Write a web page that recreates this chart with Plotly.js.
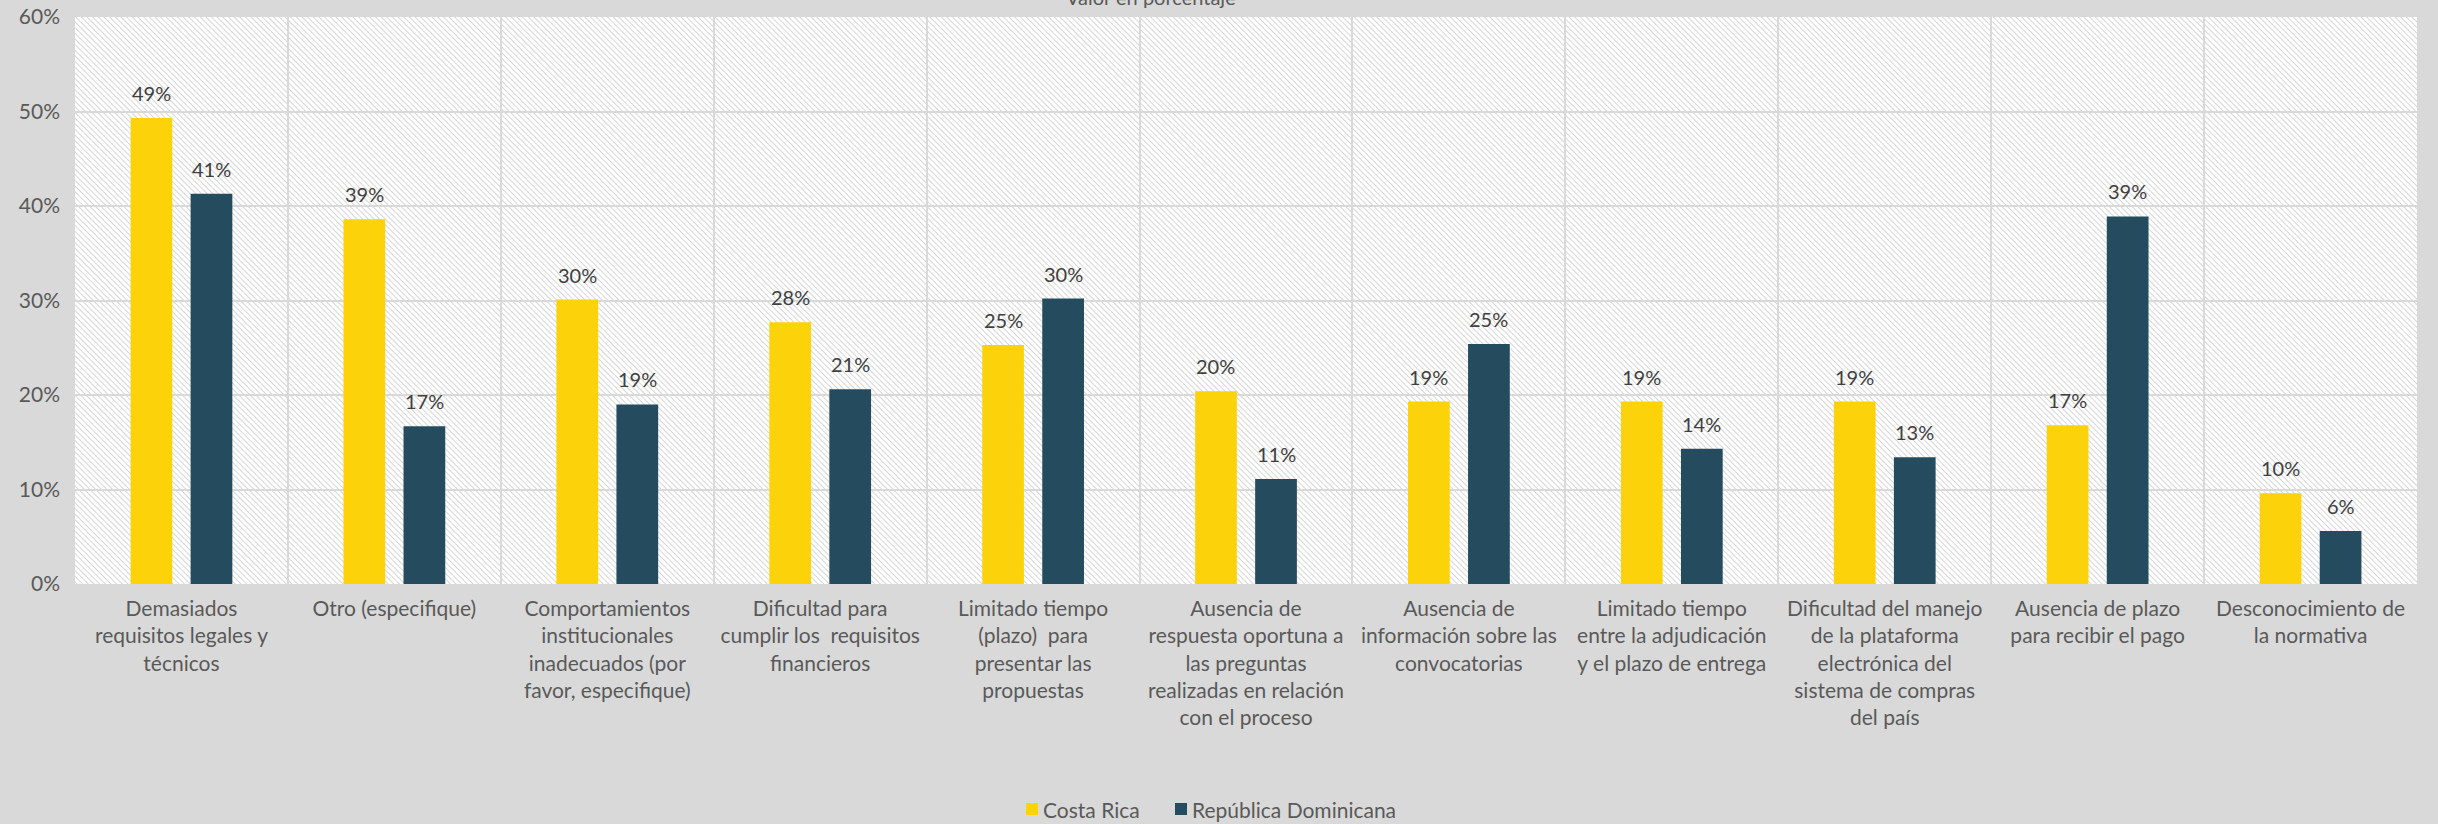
<!DOCTYPE html>
<html>
<head>
<meta charset="utf-8">
<script src="https://cdn.plot.ly/plotly-3.0.1.min.js"></script>
<style>
  html, body { margin: 0; padding: 0; background: #d9d9d9; }
  #chart { width: 2438px; height: 824px; }
</style>
</head>
<body>
<div id="chart"></div>
<script>
const categories = [
  "Demasiados<br>requisitos legales y<br>técnicos",
  "Otro (especifique)",
  "Comportamientos<br>institucionales<br>inadecuados (por<br>favor, especifique)",
  "Dificultad para<br>cumplir los  requisitos<br>financieros",
  "Limitado tiempo<br>(plazo)  para<br>presentar las<br>propuestas",
  "Ausencia de<br>respuesta oportuna a<br>las preguntas<br>realizadas en relación<br>con el proceso",
  "Ausencia de<br>información sobre las<br>convocatorias",
  "Limitado tiempo<br>entre la adjudicación<br>y el plazo de entrega",
  "Dificultad del manejo<br>de la plataforma<br>electrónica del<br>sistema de compras<br>del país",
  "Ausencia de plazo<br>para recibir el pago",
  "Desconocimiento de<br>la normativa"
];
const seriesNames = ["Costa Rica", "República Dominicana"];
const costaRica = [49.3, 38.6, 30.1, 27.7, 25.3, 20.4, 19.3, 19.3, 19.3, 16.8, 9.6];
const repDom    = [41.3, 16.7, 19.0, 20.6, 30.2, 11.1, 25.4, 14.3, 13.4, 38.9, 5.6];
const yTickVals = [0, 10, 20, 30, 40, 50, 60];
const yTickText = ["0%", "10%", "20%", "30%", "40%", "50%", "60%"];
const chartTitle = "Valor en porcentaje";

const W = 2438, H = 824;
const M = { l: 75, r: 21, t: 17, b: 240 };
const plotW = W - M.l - M.r, plotH = H - M.t - M.b;
const BARGAP = 0.436, BARGROUPGAP = 0.305;
const catW = plotW / categories.length;
const slotHalf = catW * (1 - BARGAP) / 4;

const colors = ["#FCD30B", "#254C5E"];
const font = "Lato, 'Open Sans', sans-serif";

// pixel -> paper helpers (for layout-only elements)
const px2x = px => (px - M.l) / plotW;
const py2y = py => (H - M.b - py) / plotH;

const hatchSvg =
  `<svg xmlns="http://www.w3.org/2000/svg" width="${plotW}" height="${plotH}">` +
  `<defs><pattern id="p" width="4" height="4" patternUnits="userSpaceOnUse" patternTransform="rotate(-45)">` +
  `<rect width="4" height="4" fill="#ffffff"/>` +
  `<line x1="0" y1="0" x2="0" y2="4" stroke="#cfcfcf" stroke-width="1.7"/>` +
  `</pattern></defs><rect width="100%" height="100%" fill="url(#p)"/></svg>`;
const hatchUri = "data:image/svg+xml;base64," + btoa(hatchSvg);

const allSeries = [costaRica, repDom];
const traces = allSeries.map((vals, s) => ({
  type: "bar",
  name: seriesNames[s],
  x: categories,
  y: vals,
  marker: { color: colors[s] },
  hoverinfo: "none",
  showlegend: false
}));

const annotations = [];
const shapes = [];
allSeries.forEach((vals, s) => {
  vals.forEach((v, i) => {
    annotations.push({
      x: categories[i], y: v, xref: "x", yref: "y",
      text: Math.round(v) + "%",
      showarrow: false, yanchor: "bottom",
      xshift: (s === 0 ? -1 : 1) * slotHalf, yshift: 11,
      font: { family: font, size: 20, color: "#404040" }
    });
  });
});
annotations.push({
  text: chartTitle, xref: "paper", yref: "paper",
  x: px2x(1151), y: 1, xanchor: "center", yanchor: "bottom",
  yshift: 6, showarrow: false,
  font: { family: font, size: 20, color: "#595959" }
});

// manual legend (bottom centre)
const legendX = [1026, 1175];
const legendCY = 809;
seriesNames.forEach((name, s) => {
  shapes.push({
    type: "rect", xref: "paper", yref: "paper",
    x0: px2x(legendX[s]), x1: px2x(legendX[s] + 12),
    y0: py2y(legendCY + 6), y1: py2y(legendCY - 6),
    fillcolor: colors[s], line: { width: 0 }
  });
  annotations.push({
    text: name, xref: "paper", yref: "paper",
    x: px2x(legendX[s] + 15), y: py2y(legendCY),
    xanchor: "left", yanchor: "middle", showarrow: false,
    font: { family: font, size: 21, color: "#595959" }
  });
});

const layout = {
  width: W, height: H,
  margin: M,
  paper_bgcolor: "#d9d9d9",
  plot_bgcolor: "rgba(0,0,0,0)",
  barmode: "group",
  bargap: BARGAP, bargroupgap: BARGROUPGAP,
  font: { family: font, size: 20, color: "#595959" },
  xaxis: {
    type: "category",
    tickson: "boundaries",
    showgrid: true, gridcolor: "#d9d9d9", gridwidth: 2,
    ticks: "", showline: false, zeroline: false,
    tickfont: { family: font, size: 21, color: "#595959" },
    ticklabelstandoff: 10,
    automargin: false
  },
  yaxis: {
    range: [0, 60], tickvals: yTickVals, ticktext: yTickText,
    showgrid: true, gridcolor: "#d9d9d9", gridwidth: 2,
    zeroline: false, showline: false, ticks: "",
    tickfont: { family: font, size: 21, color: "#595959" },
    ticklabelstandoff: 14,
    automargin: false
  },
  showlegend: false,
  images: [{
    source: hatchUri, xref: "paper", yref: "paper",
    x: 0, y: 1, sizex: 1, sizey: 1, xanchor: "left", yanchor: "top",
    sizing: "stretch", layer: "below"
  }],
  shapes: shapes,
  annotations: annotations
};

Plotly.newPlot("chart", traces, layout, { displayModeBar: false, staticPlot: true });
</script>
</body>
</html>
